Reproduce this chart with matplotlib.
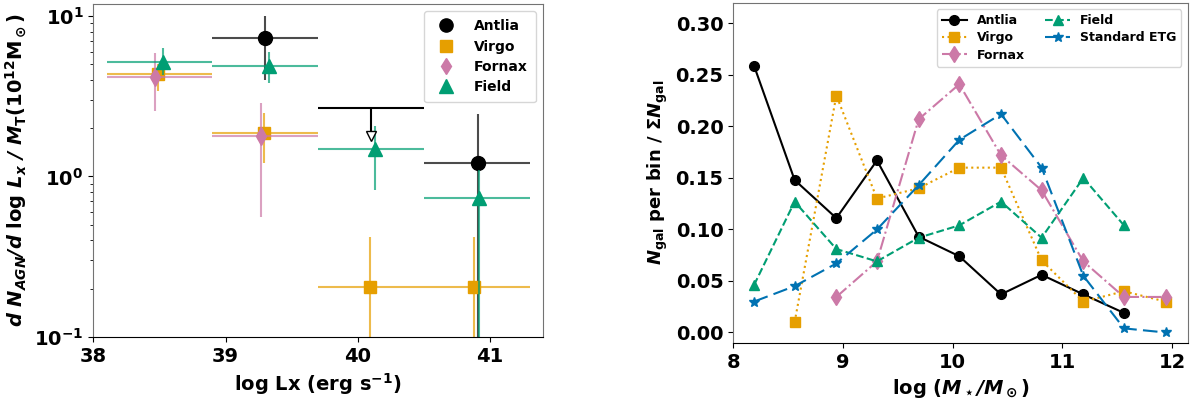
import numpy as np
import matplotlib
matplotlib.use('Agg')
import matplotlib.pyplot as plt

plt.rcParams['font.weight'] = 'bold'
plt.rcParams['axes.labelweight'] = 'bold'
plt.rcParams['mathtext.fontset'] = 'dejavusans'

c_ant = 'black'
c_vir = '#E69F00'
c_for = '#CC79A7'
c_fld = '#009E73'
c_etg = '#0072B2'

# ---- left panel data: AGN luminosity function ----
bin_lo = [38.1, 38.9, 39.7, 40.5]
bin_hi = [38.9, 39.7, 40.5, 41.3]

ant_bin = [1, 3]
ant_x = [39.30, 40.91]
ant_y = [7.3, 1.21]
ant_lo = [4.0, 0.05]
ant_hi = [10.0, 2.45]
# Antlia upper limit in bin 3
ant_ul_bin = 2
ant_ul_x = 40.10
ant_ul_y = 2.67
ant_ul_tip = 1.8

vir_bin = [0, 1, 2, 3]
vir_x = [38.49, 39.29, 40.09, 40.88]
vir_y = [4.35, 1.87, 0.205, 0.205]
vir_lo = [3.4, 1.21, 0.05, 0.05]
vir_hi = [5.0, 2.49, 0.42, 0.42]

for_bin = [0, 1]
for_x = [38.47, 39.27]
for_y = [4.2, 1.8]
for_lo = [2.56, 0.56]
for_hi = [5.88, 2.87]

fld_bin = [0, 1, 2, 3]
fld_x = [38.53, 39.33, 40.13, 40.92]
fld_y = [5.17, 4.88, 1.48, 0.73]
fld_lo = [4.3, 3.83, 0.82, 0.05]
fld_hi = [6.3, 5.97, 2.07, 1.1]

# ---- right panel data: stellar mass distributions ----
mass = [8.19, 8.56, 8.94, 9.31, 9.69, 10.06, 10.44, 10.81, 11.19, 11.56, 11.94]
ant_frac = [0.259, 0.148, 0.111, 0.167, 0.093, 0.074, 0.037, 0.056, 0.037, 0.019]
vir_frac = [0.010, 0.230, 0.130, 0.140, 0.160, 0.160, 0.070, 0.030, 0.040, 0.030]
for_frac = [0.0345, 0.069, 0.207, 0.241, 0.172, 0.138, 0.069, 0.0345, 0.0345]
fld_frac = [0.046, 0.127, 0.081, 0.069, 0.092, 0.104, 0.127, 0.092, 0.150, 0.104]
etg_frac = [0.030, 0.045, 0.067, 0.100, 0.143, 0.187, 0.212, 0.160, 0.055, 0.004, 0.000]

fig = plt.figure(figsize=(11.96, 4.0), dpi=100)
ax1 = fig.add_axes([0.078, 0.158, 0.376, 0.832])
ax2 = fig.add_axes([0.613, 0.143, 0.380, 0.85])


def lf_points(ax, bins, x, y, lo, hi, color, marker, ms, label):
    bins = np.array(bins)
    x = np.array(x)
    y = np.array(y)
    lo_b = np.array(bin_lo)[bins]
    hi_b = np.array(bin_hi)[bins]
    ax.errorbar(x, y, xerr=[x - lo_b, hi_b - x],
                yerr=[y - np.array(lo), np.array(hi) - y],
                fmt='none', ecolor=color, elinewidth=1.5, alpha=0.7)
    ax.plot(x, y, ls='none', marker=marker, color=color, ms=ms, label=label)


lf_points(ax1, ant_bin, ant_x, ant_y, ant_lo, ant_hi, c_ant, 'o', 10, 'Antlia')
lf_points(ax1, vir_bin, vir_x, vir_y, vir_lo, vir_hi, c_vir, 's', 9, 'Virgo')
lf_points(ax1, for_bin, for_x, for_y, for_lo, for_hi, c_for, 'd', 9, 'Fornax')
lf_points(ax1, fld_bin, fld_x, fld_y, fld_lo, fld_hi, c_fld, '^', 10, 'Field')

# Antlia upper limit
ax1.errorbar([ant_ul_x], [ant_ul_y],
             xerr=[[ant_ul_x - bin_lo[ant_ul_bin]], [bin_hi[ant_ul_bin] - ant_ul_x]],
             yerr=[[ant_ul_y - ant_ul_tip], [0]], fmt='none', ecolor='k', elinewidth=1.5)
ax1.plot([ant_ul_x], [ant_ul_tip], ls='none', marker='v', ms=7, mfc='white', mec='k')

ax1.set_yscale('log')
ax1.set_xlim(38.0, 41.4)
ax1.set_ylim(0.1, 11.9)
ax1.set_xticks([38, 39, 40, 41])
ax1.tick_params(labelsize=14)
ax1.set_xlabel(r'log Lx (erg s$^{\mathbf{-1}}$)', fontsize=14)
ax1.set_ylabel(r'$\mathbfit{d\ N_{AGN}/d}\ \mathbf{log}\ \mathbfit{L_x\ /\ M}_{\mathbf{T}}\mathbf{(10^{12}M_\odot)}$',
               fontsize=14)
ax1.legend(loc='upper right', fontsize=10, borderpad=0.6, labelspacing=0.45,
           markerscale=0.95, handletextpad=1.0)

# right panel
ax2.plot(mass[:10], ant_frac, color=c_ant, ls='-', marker='o', ms=7, lw=1.5, label='Antlia')
ax2.plot(mass[1:], vir_frac, color=c_vir, ls=':', marker='s', ms=7, lw=1.5, label='Virgo')
ax2.plot(mass[2:], for_frac, color=c_for, ls='-.', marker='d', ms=8, lw=1.5, label='Fornax')
ax2.plot(mass[:10], fld_frac, color=c_fld, ls='--', marker='^', ms=7, lw=1.5, label='Field')
ax2.plot(mass, etg_frac, color=c_etg, ls='--', dashes=(7, 3), marker='*', ms=7, lw=1.5,
         label='Standard ETG')

ax2.set_xlim(8.0, 12.14)
ax2.set_ylim(-0.01, 0.32)
ax2.set_xticks([8, 9, 10, 11, 12])
ax2.set_yticks([0.0, 0.05, 0.10, 0.15, 0.20, 0.25, 0.30])
ax2.set_yticklabels(['0.00', '0.05', '0.10', '0.15', '0.20', '0.25', '0.30'])
ax2.tick_params(labelsize=14)
ax2.set_xlabel(r'log $\mathbf{(}\mathbfit{M_\star/M_\odot}\mathbf{)}$', fontsize=14)
ax2.set_ylabel(r'$\mathbfit{N}_{\mathbf{gal}}$ per bin / $\mathbf{\Sigma}\mathbfit{N}_{\mathbf{gal}}$',
               fontsize=13)
ax2.legend(loc='upper right', ncol=2, fontsize=9, handlelength=2.0,
           columnspacing=1.6, labelspacing=0.35)

for ax in (ax1, ax2):
    for s in ('top', 'right', 'left'):
        ax.spines[s].set_color('0.45')

plt.savefig('out.png', dpi=100)
